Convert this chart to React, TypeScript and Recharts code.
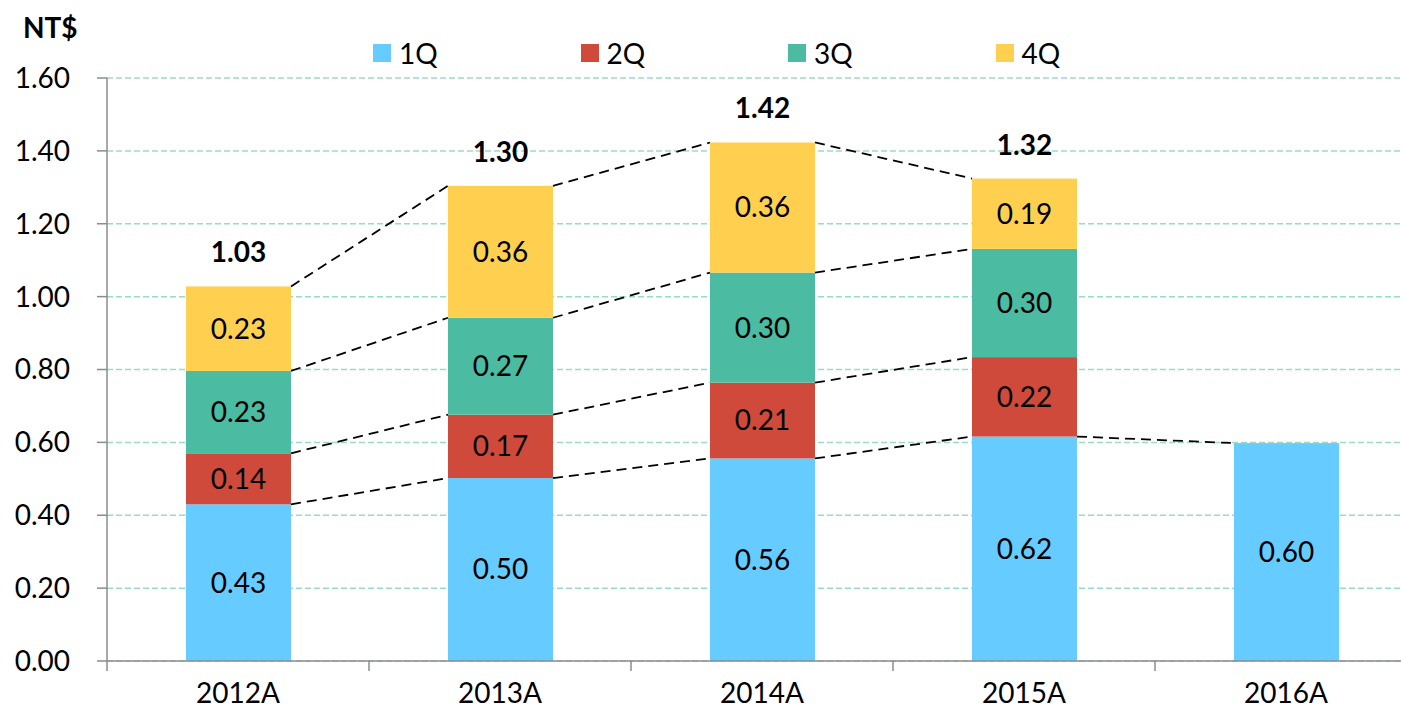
import { Bar, BarChart, CartesianGrid, LabelList, Legend, XAxis, YAxis } from "recharts";

const categories = ["2012A", "2013A", "2014A", "2015A", "2016A"];
const q1 = [0.43, 0.502, 0.556, 0.616, 0.598];
const q2 = [0.14, 0.174, 0.208, 0.218, null];
const q3 = [0.226, 0.266, 0.302, 0.297, null];
const q4 = [0.232, 0.362, 0.357, 0.193, null];
const seriesKeys = ["q1", "q2", "q3", "q4"];
const seriesNames = ["1Q", "2Q", "3Q", "4Q"];
const seriesColors = ["#66CCFF", "#D04A3C", "#4BBBA2", "#FFD050"];
const yTicks = [0, 0.2, 0.4, 0.6, 0.8, 1.0, 1.2, 1.4, 1.6];

const series: (number | null)[][] = [q1, q2, q3, q4];
const data = categories.map((name, i) => ({ name, q1: q1[i], q2: q2[i], q3: q3[i], q4: q4[i] }));

const CHART_W = 1420;
const CHART_H = 708;
const MARGIN = { top: 78, right: 3, left: 0, bottom: 0 };
const Y_W = 107;
const X_H = 47;
const STEP = (CHART_W - MARGIN.left - MARGIN.right - Y_W) / categories.length;
const AXIS = "#8c8c8c";
const FONT = 28;

// cumulative top of series k at category i (null when the stack stops before k)
function cumTop(i: number, k: number) {
  let s = 0;
  for (let j = 0; j <= k; j++) {
    const v = series[j][i];
    if (v == null) return null;
    s += v;
  }
  return s;
}

// bar rect plus the dashed connector to the same level of the next bar
function makeShape(k: number) {
  return (props: any) => {
    const { x, y, width, height, index, fill } = props;
    const v = series[k][index];
    if (v == null || !height) return <g />;
    const pxPer = height / v;
    const below = (cumTop(index, k) ?? 0) - v;
    const zeroY = y + height + below * pxPer;
    const next = index + 1 < categories.length ? cumTop(index + 1, k) : null;
    return (
      <g>
        <rect x={x} y={y} width={width} height={height} fill={fill} />
        {next != null && (
          <line
            x1={x + width}
            y1={y}
            x2={x + STEP}
            y2={zeroY - next * pxPer}
            stroke="#000"
            strokeWidth={1.8}
            strokeDasharray="10 6"
          />
        )}
      </g>
    );
  };
}

function XTick({ x, y, payload }: any) {
  return (
    <g>
      <line x1={x - STEP / 2} y1={y} x2={x - STEP / 2} y2={y + 10} stroke={AXIS} strokeWidth={1.5} />
      <text x={x} y={y + 31} textAnchor="middle" dominantBaseline="central" fontSize={FONT} fill="#000">
        {payload.value}
      </text>
    </g>
  );
}

function TotalLabel(props: any) {
  const { x, y, width, index } = props;
  if (series[3][index] == null) return null;
  const total = cumTop(index, 3) ?? 0;
  return (
    <text
      x={x + width / 2}
      y={y - 35}
      textAnchor="middle"
      dominantBaseline="central"
      fontSize={FONT}
      fontWeight="bold"
      fill="#000"
    >
      {total.toFixed(2)}
    </text>
  );
}

function LegendRow() {
  return (
    <div style={{ display: "flex" }}>
      {seriesNames.map((n, k) => (
        <div key={n} style={{ width: 207.5, display: "flex", alignItems: "center" }}>
          <span style={{ width: 18, height: 18, background: seriesColors[k], marginRight: 8 }} />
          <span style={{ fontSize: FONT, color: "#000", lineHeight: "30px" }}>{n}</span>
        </div>
      ))}
    </div>
  );
}

const fmt = (v: any) => (v == null ? "" : Number(v).toFixed(2));

export default function App() {
  return (
    <div
      style={{
        position: "absolute",
        left: 0,
        top: 0,
        width: 1401,
        height: 708,
        overflow: "hidden",
        background: "#fff",
        fontFamily: "Lato, sans-serif",
      }}
    >
      <div style={{ position: "absolute", left: 23, top: 10, fontSize: FONT, fontWeight: "bold", color: "#000" }}>
        NT$
      </div>
      <BarChart width={CHART_W} height={CHART_H} data={data} margin={MARGIN}>
        <CartesianGrid vertical={false} stroke="#9ADBC8" strokeDasharray="6 3" strokeWidth={1.5} />
        <XAxis
          dataKey="name"
          height={X_H}
          interval={0}
          tickSize={0}
          tickMargin={0}
          tickLine={false}
          axisLine={{ stroke: AXIS, strokeWidth: 1.5 }}
          tick={<XTick />}
        />
        <YAxis
          width={Y_W}
          domain={[0, 1.6]}
          ticks={yTicks}
          interval={0}
          tickFormatter={(v) => Number(v).toFixed(2)}
          tickSize={10}
          tickMargin={27}
          axisLine={{ stroke: AXIS, strokeWidth: 1.5 }}
          tickLine={{ stroke: AXIS, strokeWidth: 1.5 }}
          tick={{ fill: "#000", fontSize: FONT }}
        />
        <Legend
          verticalAlign="middle"
          align="center"
          layout="horizontal"
          wrapperStyle={{ left: 373, top: 38, width: 840 }}
          content={<LegendRow />}
        />
        {seriesKeys.map((key, k) => (
          <Bar
            key={key}
            dataKey={key}
            name={seriesNames[k]}
            stackId="a"
            barSize={105}
            fill={seriesColors[k]}
            isAnimationActive={false}
            shape={makeShape(k)}
          >
            <LabelList dataKey={key} position="center" formatter={fmt} fill="#000" fontSize={FONT} />
            {k === 3 && <LabelList dataKey={key} content={<TotalLabel />} />}
          </Bar>
        ))}
      </BarChart>
    </div>
  );
}
